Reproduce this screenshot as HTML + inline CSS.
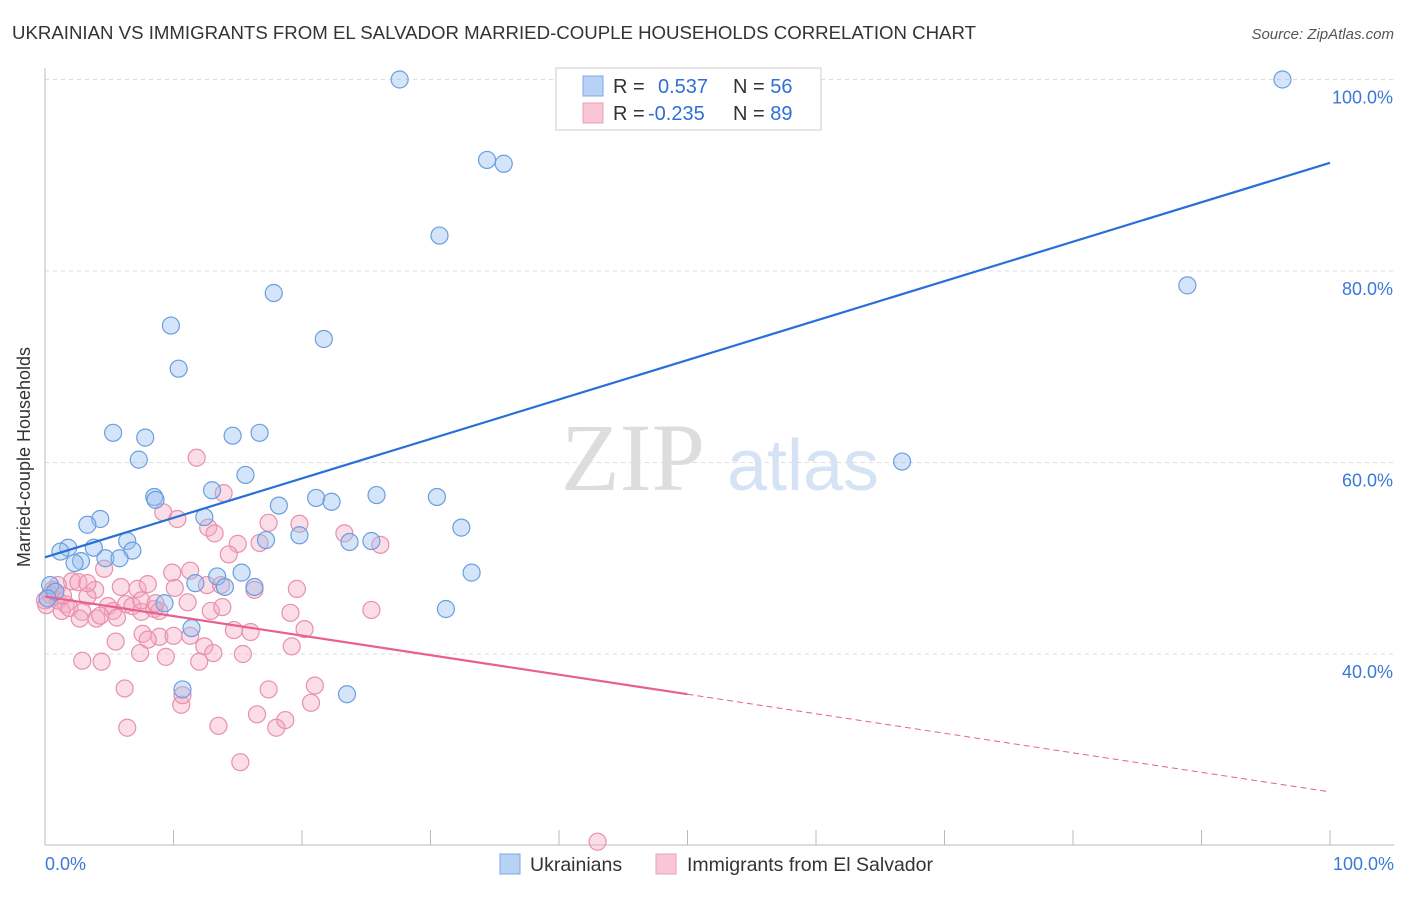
<!DOCTYPE html>
<html><head><meta charset="utf-8"><style>
body{margin:0;background:#fff;font-family:"Liberation Sans",sans-serif}
svg text{font-family:"Liberation Sans",sans-serif}
</style></head><body>
<svg id="chart" width="1406" height="892">
<text x="12" y="39" font-size="18" fill="#333" textLength="964" lengthAdjust="spacingAndGlyphs">UKRAINIAN VS IMMIGRANTS FROM EL SALVADOR MARRIED-COUPLE HOUSEHOLDS CORRELATION CHART</text>
<text x="1394" y="39" font-size="15" fill="#555" font-style="italic" text-anchor="end">Source: ZipAtlas.com</text>
<text x="30" y="457" font-size="18" fill="#333" text-anchor="middle" transform="rotate(-90 30 457)">Married-couple Households</text>
<g id="grid"></g>
<text x="633" y="490" font-size="96" fill="#ddd" text-anchor="middle" style="font-family:'Liberation Serif',serif">ZIP</text>
<text x="803" y="490" font-size="72" fill="#d6e3f5" text-anchor="middle">atlas</text>
<g id="pts"></g>
<g id="lines"></g>
<g>
<rect x="556" y="68" width="265" height="62" fill="#fff" stroke="#ccc"/>
<rect x="583" y="76" width="20" height="20" fill="#b7d2f4" stroke="#7aaae6"/>
<rect x="583" y="103" width="20" height="20" fill="#f9c6d6" stroke="#ee9fb8"/>
<text x="613" y="93" font-size="20" fill="#333">R = <tspan fill="#2f6fd6" x="658">0.537</tspan><tspan fill="#333" x="733">N = </tspan><tspan fill="#2f6fd6">56</tspan></text>
<text x="613" y="120" font-size="20" fill="#333">R = <tspan fill="#2f6fd6" x="648">-0.235</tspan><tspan fill="#333" x="733">N = </tspan><tspan fill="#2f6fd6">89</tspan></text>
</g>
<g>
<rect x="500" y="854" width="20" height="20" fill="#b7d2f4" stroke="#7aaae6"/>
<text x="530" y="871" font-size="19.5" fill="#333">Ukrainians</text>
<rect x="656" y="854" width="20" height="20" fill="#f9c6d6" stroke="#ee9fb8"/>
<text x="687" y="871" font-size="19.5" fill="#333">Immigrants from El Salvador</text>
</g>
</svg>
<script>
const yTicks=[40,60,80,100];
const yTickLabels=["40.0%","60.0%","80.0%","100.0%"];
const xEndLabels=["0.0%","100.0%"];
const blueX=[27.6,96.3,34.4,35.7,30.7,88.9,17.8,9.8,21.7,10.4,5.3,7.8,14.6,16.7,7.3,66.7,15.6,8.5,13.0,8.6,25.8,30.5,21.1,22.3,18.2,12.4,32.4,4.3,3.3,19.8,17.2,23.7,25.4,1.8,1.2,3.8,6.4,6.8,2.8,2.3,4.7,5.8,13.4,15.3,33.2,11.7,14.0,16.3,9.3,31.2,11.4,10.7,23.5,0.4,0.8,0.2];
const blueY=[100,100,91.6,91.2,83.7,78.5,77.7,74.3,72.9,69.8,63.1,62.6,62.8,63.1,60.3,60.1,58.7,56.4,57.1,56.1,56.6,56.4,56.3,55.9,55.5,54.3,53.2,54.1,53.5,52.4,51.9,51.7,51.8,51.1,50.7,51.1,51.8,50.8,49.7,49.5,50.0,50.0,48.1,48.5,48.5,47.4,47.0,47.0,45.3,44.7,42.7,36.3,35.8,47.2,46.5,45.8];
const pinkX=[11.8,13.9,10.3,9.2,17.4,19.8,23.3,26.1,12.7,13.2,15.0,16.7,14.3,4.6,9.9,11.3,2.1,2.6,3.9,5.9,7.2,8.0,10.1,12.6,13.7,16.3,19.6,0.4,1.0,1.6,1.3,1.9,2.9,4.9,5.3,6.3,6.8,7.5,8.5,8.9,11.1,12.9,13.8,19.1,25.4,2.7,4.0,4.3,5.6,7.6,8.9,10.0,14.7,16.0,20.2,5.5,8.0,11.3,12.4,13.1,19.2,2.9,4.4,7.4,9.4,12.0,15.4,6.2,10.6,10.7,17.4,21.0,20.7,6.4,13.5,16.5,18.0,18.7,15.2,43.0,0,0.6,1.0,0.1,1.4,3.3,7.5,8.6,3.3];
const pinkY=[60.5,56.8,54.1,54.8,53.7,53.6,52.6,51.4,53.2,52.6,51.5,51.6,50.4,48.9,48.5,48.7,47.6,47.5,46.7,47.0,46.8,47.3,46.9,47.2,47.2,46.7,46.8,46.2,45.6,45.2,44.5,44.8,44.4,45.0,44.5,45.2,45.0,44.4,44.7,44.5,45.4,44.5,44.9,44.3,44.6,43.7,43.7,44.0,43.8,42.1,41.8,41.9,42.5,42.3,42.6,41.3,41.5,41.9,40.8,40.1,40.8,39.3,39.2,40.1,39.7,39.2,40.0,36.4,34.7,35.7,36.3,36.7,34.9,32.3,32.5,33.7,32.3,33.1,28.7,20.4,45.6,46.7,47.2,45.1,46.1,46.0,45.6,45.3,47.4];
const blueTrend=[50.1,91.3];
const pinkTrend=[46.0,25.6];
const pinkSolidEnd=50;
const NS="http://www.w3.org/2000/svg";
const X=v=>45+v*12.85;
const Y=v=>654-(v-40)*9.575;
function mk(t,a,p){const e=document.createElementNS(NS,t);for(const k in a)e.setAttribute(k,a[k]);p.appendChild(e);return e;}
const grid=document.getElementById('grid');
yTicks.forEach((t,i)=>{
 const l=mk('line',{x1:45,x2:1394,y1:Y(t),y2:Y(t),stroke:'#ddd','stroke-dasharray':'4,4'},grid);
 
 
 const tx=mk('text',{x:1393,y:Y(t)+24,'font-size':18,fill:'#3b78d8','text-anchor':'end'},grid);
 tx.textContent=yTickLabels[i];
 
 
});
const ax=mk('line',{x1:45,x2:45,y1:68,y2:845,stroke:'#bbb'},grid);


const bx=mk('line',{x1:45,x2:1394,y1:845,y2:845,stroke:'#bbb'},grid);


for(let i=0;i<=10;i++){const t=mk('line',{x1:X(i*10),x2:X(i*10),y1:830,y2:845,stroke:'#bbb'},grid);
 
 }
[[0,'start',45],[100,'end',1394]].forEach(([v,a,x],i)=>{const t=mk('text',{x:x,y:870,'font-size':18,fill:'#3b78d8','text-anchor':a},grid);t.textContent=xEndLabels[i];
 
 });
const pts=document.getElementById('pts');
pinkX.forEach((x,i)=>{const c=mk('circle',{cx:X(x),cy:Y(pinkY[i]),r:8.5,fill:'rgba(245,165,192,0.38)',stroke:'#e890ac','stroke-width':1.2},pts);
 
 });
blueX.forEach((x,i)=>{const c=mk('circle',{cx:X(x),cy:Y(blueY[i]),r:8.5,fill:'rgba(150,190,240,0.4)',stroke:'#6a9ee0','stroke-width':1.2},pts);
 
 });
const lines=document.getElementById('lines');
const bl=mk('line',{x1:X(0),y1:Y(blueTrend[0]),x2:X(100),y2:Y(blueTrend[1]),stroke:'#2a6fd6','stroke-width':2.2},lines);


const pm=pinkTrend[0]+(pinkTrend[1]-pinkTrend[0])*pinkSolidEnd/100;
const pl=mk('line',{x1:X(0),y1:Y(pinkTrend[0]),x2:X(pinkSolidEnd),y2:Y(pm),stroke:'#e8608e','stroke-width':2.2},lines);


const pd=mk('line',{x1:X(pinkSolidEnd),y1:Y(pm),x2:X(100),y2:Y(pinkTrend[1]),stroke:'#e8608e','stroke-width':1,'stroke-dasharray':'6,4'},lines);


</script>
</body></html>
